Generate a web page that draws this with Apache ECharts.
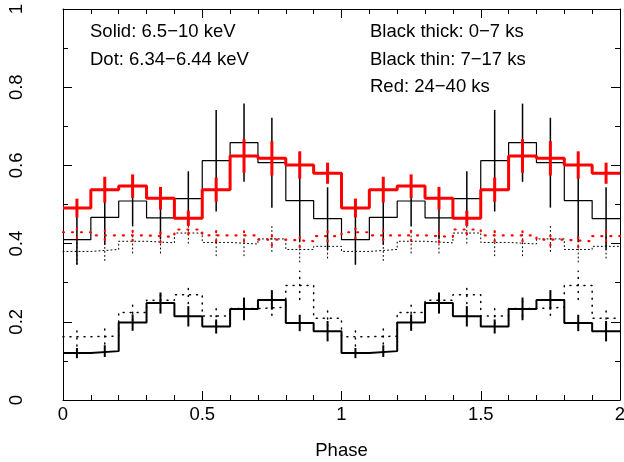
<!DOCTYPE html>
<html>
<head>
<meta charset="utf-8">
<script src="https://cdn.jsdelivr.net/npm/echarts@6/dist/echarts.min.js"></script>
<style>html,body{margin:0;padding:0;background:#fff}#c{width:624px;height:462px}</style>
</head>
<body>
<div id="c"></div>
<script>
// Phase bins (left edges, width 0.1); the cycle is shown twice (0-2)
var phaseLo = [0.0, 0.1, 0.2, 0.3, 0.4, 0.5, 0.6, 0.7, 0.8, 0.9];
var binWidth = 0.1;
var xTicks = [0, 0.5, 1, 1.5, 2];
var yTicks = [0, 0.2, 0.4, 0.6, 0.8, 1];

// Red: 24-40 ks, solid 6.5-10 keV
var redSolid    = [0.491, 0.538, 0.547, 0.516, 0.465, 0.538, 0.624, 0.618, 0.601, 0.580];
var redSolidErr = [0.024, 0.033, 0.030, 0.029, 0.019, 0.031, 0.043, 0.044, 0.035, 0.027];
// Red: 24-40 ks, dotted 6.34-6.44 keV
var redDot      = [0.429, 0.421, 0.421, 0.417, 0.436, 0.421, 0.421, 0.410, 0.406, 0.419];
var redDotErr   = [0.016, 0.012, 0.014, 0.014, 0.012, 0.015, 0.015, 0.015, 0.015, 0.013];
// Black thin: 7-17 ks, solid
var thinSolid    = [0.410, 0.467, 0.509, 0.466, 0.515, 0.612, 0.658, 0.607, 0.510, 0.464];
var thinSolidErr = [0.064, 0.070, 0.065, 0.055, 0.070, 0.130, 0.100, 0.115, 0.105, 0.080];
// Black thin: 7-17 ks, dotted
var thinDot      = [0.380, 0.385, 0.406, 0.402, 0.427, 0.403, 0.399, 0.412, 0.385, 0.393];
var thinDotErr   = [0.032, 0.028, 0.030, 0.026, 0.026, 0.034, 0.030, 0.032, 0.032, 0.030];
// Black thick: 0-7 ks, solid
var thickSolid    = [0.120, 0.125, 0.198, 0.248, 0.214, 0.188, 0.233, 0.256, 0.197, 0.176];
var thickSolidErr = [0.013, 0.015, 0.021, 0.027, 0.026, 0.018, 0.029, 0.025, 0.021, 0.026];
// Black thick: 0-7 ks, dotted
var thickDot      = [0.162, 0.163, 0.224, 0.255, 0.269, 0.215, 0.234, 0.237, 0.293, 0.209];
var thickDotErr   = [0.024, 0.020, 0.020, 0.025, 0.022, 0.020, 0.020, 0.020, 0.036, 0.020];

var FONT = 'Liberation Sans';
var FS = 18.5;

function stepData(vals) {
  var d = [];
  for (var c = 0; c < 2; c++) {
    for (var i = 0; i < phaseLo.length; i++) d.push([c + phaseLo[i], vals[i]]);
  }
  d.push([2, vals[vals.length - 1]]);
  return d;
}
function errData(vals, errs) {
  var d = [];
  for (var c = 0; c < 2; c++) {
    for (var i = 0; i < phaseLo.length; i++) d.push([c + phaseLo[i] + binWidth / 2, vals[i], errs[i]]);
  }
  return d;
}
function stepSeries(vals, color, width, dash, z) {
  return {
    type: 'line', step: 'end', data: stepData(vals), symbol: 'none', z: z,
    xAxisIndex: 0, yAxisIndex: 0, animation: false, silent: true,
    lineStyle: { color: color, width: width, type: dash || 'solid', cap: dash ? 'round' : 'butt' }
  };
}
function errSeries(vals, errs, color, width, dash, z) {
  return {
    type: 'custom', data: errData(vals, errs), z: z, animation: false, silent: true,
    xAxisIndex: 0, yAxisIndex: 0,
    renderItem: function (params, api) {
      var x = api.value(0), y = api.value(1), e = api.value(2);
      var p1 = api.coord([x, y - e]), p2 = api.coord([x, y + e]);
      return {
        type: 'line',
        shape: { x1: p1[0], y1: p1[1], x2: p2[0], y2: p2[1] },
        style: { stroke: color, lineWidth: width, lineDash: dash || null, lineCap: dash ? 'round' : 'butt' }
      };
    }
  };
}

var axisCommon = {
  type: 'value',
  axisLine: { show: true, onZero: false, lineStyle: { color: '#000', width: 1 } },
  splitLine: { show: false },
  minorSplitLine: { show: false }
};

var chart = echarts.init(document.getElementById('c'), null, { renderer: 'canvas' });
chart.setOption({
  backgroundColor: '#fff',
  animation: false,
  grid: { left: 63, right: 4, top: 9, bottom: 62, containLabel: false, outerBoundsMode: 'none' },
  xAxis: [
    Object.assign({}, axisCommon, {
      min: xTicks[0], max: xTicks[xTicks.length - 1], interval: 0.5, position: 'bottom',
      axisTick: { show: true, inside: true, length: 9, lineStyle: { color: '#000' } },
      minorTick: { show: true, splitNumber: 5, length: 5, lineStyle: { color: '#000' } },
      axisLabel: { color: '#000', fontFamily: FONT, fontSize: FS, margin: 5,
        formatter: function (v) { return String(v); } },
      name: 'Phase', nameLocation: 'middle', nameGap: 41,
      nameTextStyle: { color: '#000', fontFamily: FONT, fontSize: FS }
    }),
    Object.assign({}, axisCommon, {
      min: xTicks[0], max: xTicks[xTicks.length - 1], interval: 0.5, position: 'top',
      axisTick: { show: true, inside: true, length: 9, lineStyle: { color: '#000' } },
      minorTick: { show: true, splitNumber: 5, length: 5, lineStyle: { color: '#000' } },
      axisLabel: { show: false }
    })
  ],
  yAxis: [
    Object.assign({}, axisCommon, {
      min: yTicks[0], max: yTicks[yTicks.length - 1], interval: 0.2, position: 'left',
      axisTick: { show: true, inside: true, length: 9, lineStyle: { color: '#000' } },
      minorTick: { show: true, splitNumber: 2, length: 5, lineStyle: { color: '#000' } },
      axisLabel: { color: '#000', fontFamily: FONT, fontSize: FS, rotate: 90, margin: 46,
        verticalAlign: 'middle', align: 'center',
        formatter: function (v) { return String(v); } },
      name: 'Counts/sec', nameLocation: 'middle', nameGap: 44,
      nameTextStyle: { color: '#000', fontFamily: FONT, fontSize: FS }
    }),
    Object.assign({}, axisCommon, {
      min: yTicks[0], max: yTicks[yTicks.length - 1], interval: 0.2, position: 'right',
      axisTick: { show: true, inside: true, length: 9, lineStyle: { color: '#000' } },
      minorTick: { show: true, splitNumber: 2, length: 5, lineStyle: { color: '#000' } },
      axisLabel: { show: false }
    })
  ],
  graphic: [
    { type: 'text', left: 90, top: 22, style: { text: 'Solid: 6.5\u221210 keV', fill: '#000', font: FS + 'px "Liberation Sans"' } },
    { type: 'text', left: 90, top: 50, style: { text: 'Dot: 6.34\u22126.44 keV', fill: '#000', font: FS + 'px "Liberation Sans"' } },
    { type: 'text', left: 370, top: 22, style: { text: 'Black thick: 0\u22127 ks', fill: '#000', font: FS + 'px "Liberation Sans"' } },
    { type: 'text', left: 370, top: 50, style: { text: 'Black thin: 7\u221217 ks', fill: '#000', font: FS + 'px "Liberation Sans"' } },
    { type: 'text', left: 370, top: 77, style: { text: 'Red: 24\u221240 ks', fill: '#000', font: FS + 'px "Liberation Sans"' } }
  ],
  series: [
    stepSeries(thinDot, '#000', 1, [1, 3], 2),
    errSeries(thinDot, thinDotErr, '#000', 1, [1, 3], 2),
    stepSeries(thickDot, '#000', 1.5, [1, 6], 2),
    errSeries(thickDot, thickDotErr, '#000', 1.5, [1, 6], 2),
    stepSeries(thinSolid, '#000', 1.2, null, 3),
    errSeries(thinSolid, thinSolidErr, '#000', 1.5, null, 3),
    stepSeries(thickSolid, '#000', 2, null, 3),
    errSeries(thickSolid, thickSolidErr, '#000', 2, null, 3),
    stepSeries(redDot, '#ff0000', 2.2, [1, 8], 4),
    errSeries(redDot, redDotErr, '#ff0000', 2.2, [1, 8], 4),
    stepSeries(redSolid, '#ff0000', 3, null, 5),
    errSeries(redSolid, redSolidErr, '#ff0000', 3, null, 5)
  ]
});
</script>
</body>
</html>
